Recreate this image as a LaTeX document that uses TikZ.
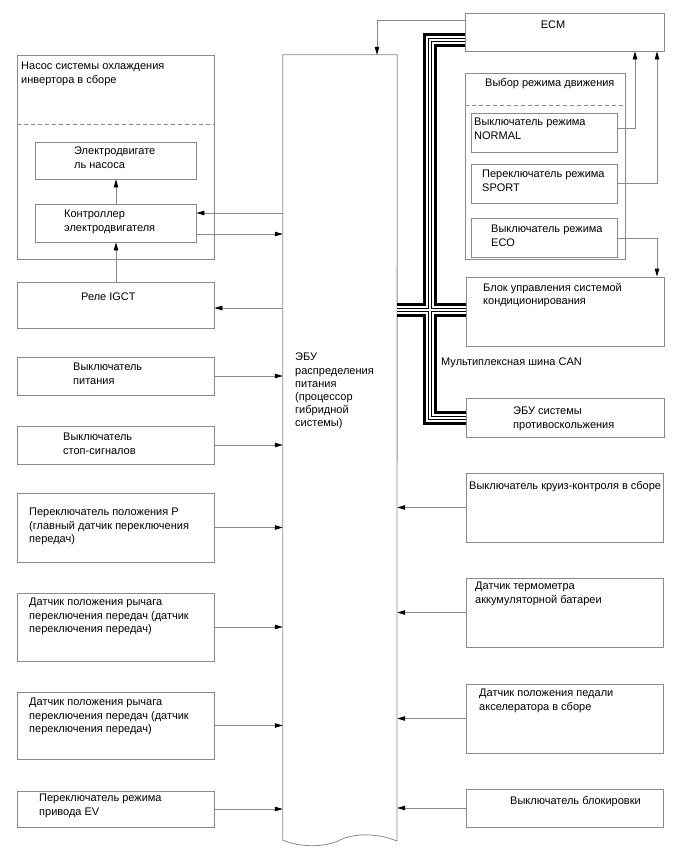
\documentclass[tikz,border=0pt]{standalone}
\usepackage{fontspec}
\setmainfont{Liberation Sans}
\usetikzlibrary{arrows.meta,calc}
\definecolor{ln}{HTML}{8A8A8A}
\tikzset{
  box/.style={draw=ln, line width=0.8pt, inner sep=0pt, fill=none},
  txt/.style={inner sep=0pt, align=left, anchor=north west, font=\fontsize{11}{13.6}\selectfont},
  arr/.style={draw=ln, line width=0.8pt, -{Triangle[length=8pt,width=4.5pt,color=black]}},
  dash line/.style={draw=ln, line width=0.8pt, dash pattern=on 4pt off 3pt},
}
\newcommand\mkbox[5]{\node[box, minimum width={(#4-#2)*1pt}, minimum height={(#5-#3)*1pt}] (#1) at ({(#2+#4)/2},{(#3+#5)/2}) {};}
\newcommand\canbus[2]{%
  \draw[line width=#1, draw=#2, line cap=butt, line join=miter] (ecm.west |- 0,39.5) -- (429.5,39.5) -- (429.5,418) -- (abs.west |- 0,418);
  \draw[line width=#1, draw=#2, line cap=butt] (ecu.east |- 0,310) -- (ac.west |- 0,310);}
\begin{document}
\begin{tikzpicture}[x=1pt,y=-1pt]
\useasboundingbox (0,0) rectangle (688,852);
% left column
\mkbox{pump}{17}{55}{214}{259}
\draw[dash line] (pump.west |- 0,124) -- (pump.east |- 0,124);
\mkbox{motor}{35}{142}{196}{179}
\mkbox{ctrl}{35}{204}{196}{242}
\mkbox{relay}{17}{282}{214}{328}
\mkbox{power}{17}{357}{214}{395}
\mkbox{stop}{17}{426}{214}{464}
\mkbox{ppos}{17}{493}{214}{562}
\mkbox{levera}{17}{593}{214}{661}
\mkbox{leverb}{17}{692}{214}{759}
\mkbox{ev}{17}{791}{214}{827}
% ECU
\node[inner sep=0pt, minimum width=114pt, minimum height=785pt] (ecu) at (340,447.5) {};
\draw[draw=ln, line width=0.8pt] (ecu.south west) -- (ecu.north west) -- (ecu.north east) -- (397,841)
  .. controls (375,832) and (352,834) .. (340,840)
  .. controls (328,846) and (305,849) .. (ecu.south west);
% right column
\mkbox{ecm}{465}{13}{664}{51}
\mkbox{mode}{465}{73}{625}{259}
\draw[dash line] (mode.west |- 0,105) -- (mode.east |- 0,105);
\mkbox{normal}{471}{113}{617}{152}
\mkbox{sport}{471}{164}{617}{203}
\mkbox{eco}{471}{218}{617}{257}
\mkbox{ac}{466}{277}{664}{346}
\mkbox{abs}{466}{398}{664}{437}
\mkbox{cruise}{466}{473}{663}{542}
\mkbox{thermo}{466}{578}{663}{647}
\mkbox{pedal}{466}{684}{663}{753}
\mkbox{lock}{466}{789}{663}{827}
% texts
\node[txt] (t-pump) at (21,62) {Насос системы охлаждения\\инвертора в сборе};
\node[txt] (t-motor) at (74,147) {Электродвигате\\ль насоса};
\node[txt] (t-ctrl) at (64,210) {Контроллер\\электродвигателя};
\node[txt] (t-relay) at (81,293) {Реле IGCT};
\node[txt] (t-power) at (73,363) {Выключатель\\питания};
\node[txt] (t-stop) at (63,433) {Выключатель\\стоп-сигналов};
\node[txt] (t-ppos) at (29,508) {Переключатель положения P\\(главный датчик переключения\\передач)};
\node[txt] (t-levera) at (29,598) {Датчик положения рычага\\переключения передач (датчик\\переключения передач)};
\node[txt] (t-leverb) at (29,698) {Датчик положения рычага\\переключения передач (датчик\\переключения передач)};
\node[txt] (t-ev) at (39,794) {Переключатель режима\\привода EV};
\node[txt, font=\fontsize{11}{13.2}\selectfont] (t-ecu) at (295,353) {ЭБУ\\распределения\\питания\\(процессор\\гибридной\\системы)};
\node[txt, anchor=center] (t-ecm) at (553,25) {ECM};
\node[txt] (t-mode) at (485,78) {Выбор режима движения};
\node[txt] (t-normal) at (474,118) {Выключатель режима\\NORMAL};
\node[txt] (t-sport) at (482,170) {Переключатель режима\\SPORT};
\node[txt] (t-eco) at (491,225) {Выключатель режима\\ECO};
\node[txt] (t-ac) at (483,283) {Блок управления системой\\кондиционирования};
\node[txt] (t-can) at (441,358) {Мультиплексная шина CAN};
\node[txt] (t-abs) at (513,407) {ЭБУ системы\\противоскольжения};
\node[txt] (t-cruise) at (469,481) {Выключатель круиз-контроля в сборе};
\node[txt] (t-thermo) at (475,582) {Датчик термометра\\аккумуляторной батареи};
\node[txt] (t-pedal) at (479,689) {Датчик положения педали\\акселератора в сборе};
\node[txt] (t-lock) at (510,796) {Выключатель блокировки};
% CAN bus
\canbus{14pt}{black}
\canbus{8pt}{white}
\canbus{4pt}{black}
\canbus{2pt}{white}
% connectors
\draw[arr] (ecm.west |- 0,20) -| (ecu.north -| 377,0);
\draw[arr] (normal.east |- 0,128) -| (ecm.south -| 635,0);
\draw[arr] (sport.east |- 0,183) -| (ecm.south -| 657,0);
\draw[arr] (eco.east |- 0,238) -| (ac.north -| 657,0);
\draw[arr] (ecu.west |- 0,213) -- (ctrl.east |- 0,213);
\draw[arr] (ctrl.east |- 0,234) -- (ecu.west |- 0,234);
\draw[arr] (ctrl.north -| 116,0) -- (motor.south -| 116,0);
\draw[arr] (relay.north -| 116,0) -- (ctrl.south -| 116,0);
\draw[arr] (ecu.west |- 0,308) -- (relay.east |- 0,308);
\foreach \n in {power,stop,ppos,levera,leverb,ev}
  \draw[arr] (\n.east) -- (\n.east -| ecu.west);
\foreach \n in {cruise,thermo,pedal,lock}
  \draw[arr] (\n.west) -- (\n.west -| ecu.east);
\end{tikzpicture}
\end{document}
